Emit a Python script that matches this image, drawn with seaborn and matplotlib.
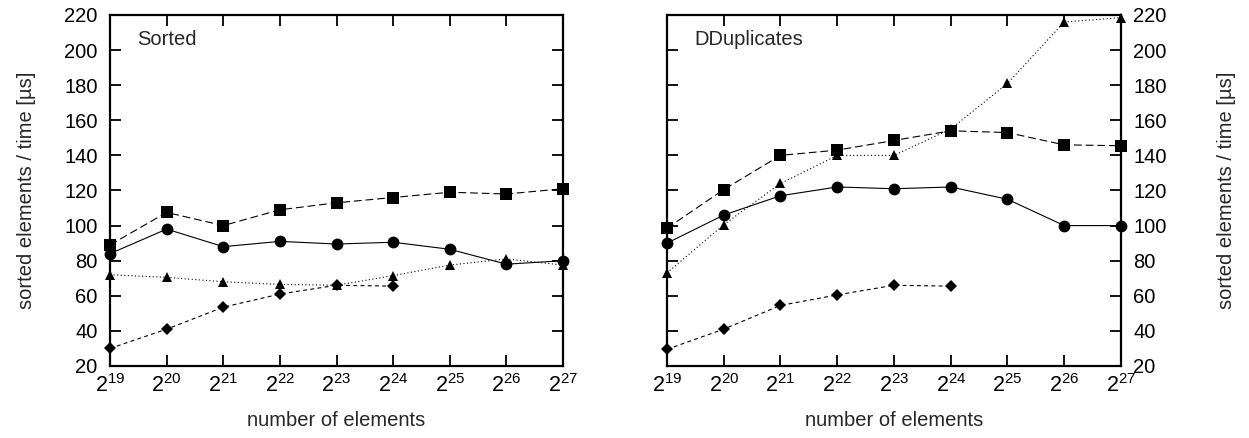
import numpy as np
import pandas as pd
import matplotlib
matplotlib.use("Agg")
import matplotlib.pyplot as plt
import seaborn as sns

# -----------------------------
# data
# -----------------------------
exponents = [19, 20, 21, 22, 23, 24, 25, 26, 27]

sorted_circle = [84, 98, 88, 91, 89.5, 90.5, 86.5, 78, 80]
sorted_square = [89, 107.5, 100, 109, 113, 116, 119, 118, 121]
sorted_triangle = [72, 70.5, 68, 66.5, 66, 71.5, 77.5, 81, 77.5]
sorted_diamond = [30, 41, 53.5, 61, 66, 65.5]

dup_circle = [90, 106, 117, 122, 121, 122, 115, 100, 100]
dup_square = [98.5, 120.5, 140, 143, 148.5, 154, 153, 146, 145.5]
dup_triangle = [73, 100.5, 124, 140, 140, 155, 181, 216, 218.5]
dup_diamond = [29.5, 41, 54.5, 60.5, 66, 65.5]

panels = [("Sorted", sorted_circle, sorted_square, sorted_triangle, sorted_diamond),
          ("DDuplicates", dup_circle, dup_square, dup_triangle, dup_diamond)]

# -----------------------------
# style
# -----------------------------
sns.set_theme(style="ticks")
plt.rcParams["font.family"] = ["Liberation Sans", "DejaVu Sans"]
plt.rcParams["mathtext.fontset"] = "custom"
plt.rcParams["mathtext.rm"] = "Liberation Sans"
plt.rcParams["mathtext.it"] = "Liberation Sans:italic"
plt.rcParams["mathtext.bf"] = "Liberation Sans:bold"

FS = 14.5
markers = {"circle": "o", "square": "s", "triangle": "^", "diamond": "D"}
dashes = {"circle": "", "square": (7, 3.5), "triangle": (1, 2.2), "diamond": (3.5, 3)}
msize = {"circle": 8.5, "square": 8.5, "triangle": 7.5, "diamond": 6}
order = ["triangle", "diamond", "circle", "square"]

fig = plt.figure(figsize=(12.49, 4.38), dpi=100)
ax_left = fig.add_axes([0.0881, 0.1644, 0.3627, 0.8014])
ax_right = fig.add_axes([0.534, 0.1644, 0.3635, 0.8014])

for ax, (name, circ, sq, tri, dia) in zip([ax_left, ax_right], panels):
    rows = []
    for key, vals in [("circle", circ), ("square", sq), ("triangle", tri), ("diamond", dia)]:
        for e, v in zip(exponents, vals):
            rows.append({"n": 2 ** e, "value": v, "series": key})
    df = pd.DataFrame(rows)

    for key in order:
        sub = df[df["series"] == key]
        sns.lineplot(data=sub, x="n", y="value", ax=ax, color="black",
                     marker=markers[key], markersize=msize[key],
                     linewidth=0.8, markeredgewidth=0, clip_on=False,
                     legend=False, zorder=3)
    # gnuplot-like dash patterns
    for line, key in zip(ax.get_lines(), order):
        if dashes[key]:
            line.set_dashes(dashes[key])
        else:
            line.set_linestyle("-")

    ax.set_xscale("log", base=2)
    ax.set_xlim(2 ** 19, 2 ** 27)
    ax.set_ylim(20, 220)
    ax.set_xticks([2 ** e for e in exponents])
    ax.set_xticklabels([rf"$2^{{{e}}}$" for e in exponents])
    ax.xaxis.set_minor_locator(matplotlib.ticker.NullLocator())
    ax.set_yticks(np.arange(20, 221, 20))
    ax.tick_params(axis="both", which="major", direction="in", length=8, width=1.3,
                   top=True, right=True, labelsize=FS, colors="black")
    ax.tick_params(axis="y", pad=9)
    ax.tick_params(axis="x", pad=6, labelsize=FS + 1)
    for sp in ax.spines.values():
        sp.set_visible(True)
        sp.set_linewidth(1.6)
        sp.set_color("black")
    ax.set_xlabel("number of elements", fontsize=FS, labelpad=10)
    ax.text(0.06, 0.93, name, transform=ax.transAxes, fontsize=FS, va="center", ha="left")

ax_left.set_ylabel("sorted elements / time [µs]", fontsize=FS, labelpad=20)
ax_right.yaxis.tick_right()
ax_right.tick_params(axis="y", left=True, right=True, labelleft=False, labelright=True)
ax_right.yaxis.set_label_position("right")
ax_right.set_ylabel("sorted elements / time [µs]", fontsize=FS, labelpad=36)

fig.savefig("out.png", dpi=100)
